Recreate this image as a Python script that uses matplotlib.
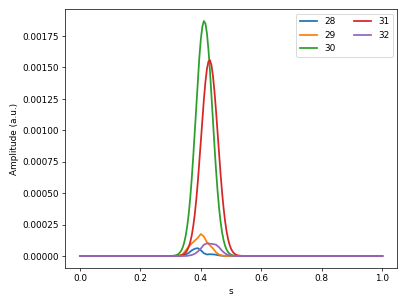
import numpy as np
import matplotlib
matplotlib.use("Agg")
import matplotlib.pyplot as plt

# coarse grid (0.01) for the small series, fine grid (0.005) for the two big peaks
s_coarse = np.round(np.linspace(0.0, 1.0, 101), 3)
s_fine = np.round(np.linspace(0.0, 1.0, 201), 3)

# non-zero stretch of each series starts at these s values; zero elsewhere
start_28, vals_28 = 0.34, [0.000005, 0.000012, 0.000025, 0.000045, 0.000058, 0.000062,
                          0.000045, 0.000022, 0.000012, 0.000014, 0.000013, 0.000010,
                          0.000005, 0.000002]
start_29, vals_29 = 0.33, [0.000004, 0.000015, 0.000045, 0.000075, 0.000100, 0.000123,
                          0.000145, 0.000175, 0.000155, 0.000110, 0.000085, 0.000060,
                          0.000030, 0.000012, 0.000004]
start_30, vals_30 = 0.30, [0.0000006, 0.0000012, 0.0000023, 0.0000045, 0.0000081, 0.0000146,
                          0.0000254, 0.0000422, 0.0000683, 0.000107, 0.000163, 0.000239,
                          0.000338, 0.000466, 0.000620, 0.000799, 0.000995, 0.001200,
                          0.001400, 0.001581, 0.001727, 0.001826, 0.001869, 0.001850,
                          0.001773, 0.001644, 0.001476, 0.001281, 0.001077, 0.000875,
                          0.000689, 0.000525, 0.000387, 0.000276, 0.000190, 0.000127,
                          0.000082, 0.0000514, 0.0000311, 0.0000183, 0.0000103, 0.0000056,
                          0.000003, 0.0000015, 0.0000008]
start_31, vals_31 = 0.31, [0.0000002, 0.0000004, 0.0000007, 0.0000014, 0.0000028, 0.0000052,
                          0.0000093, 0.0000164, 0.0000278, 0.0000457, 0.0000727, 0.000112,
                          0.000166, 0.000240, 0.000335, 0.000452, 0.000591, 0.000748,
                          0.000915, 0.001085, 0.001245, 0.001383, 0.001487, 0.001547,
                          0.001558, 0.001519, 0.001433, 0.001309, 0.001158, 0.000991,
                          0.000820, 0.000658, 0.000510, 0.000384, 0.000279, 0.000196,
                          0.000134, 0.0000882, 0.0000562, 0.0000348, 0.0000208, 0.000012,
                          0.0000067, 0.0000036, 0.0000019, 0.000001, 0.0000005]
start_32, vals_32 = 0.36, [0.000003, 0.000008, 0.000018, 0.000035, 0.000060, 0.000090,
                          0.000100, 0.000098, 0.000095, 0.000090, 0.000070, 0.000042,
                          0.000020, 0.000008, 0.000003]

labels = ["28", "29", "30", "31", "32"]


def full_series(grid, start, vals):
    y = np.zeros_like(grid)
    step = grid[1] - grid[0]
    i0 = int(round(start / step))
    y[i0:i0 + len(vals)] = vals
    return y


series = [
    (s_coarse, full_series(s_coarse, start_28, vals_28)),
    (s_coarse, full_series(s_coarse, start_29, vals_29)),
    (s_fine, full_series(s_fine, start_30, vals_30)),
    (s_fine, full_series(s_fine, start_31, vals_31)),
    (s_coarse, full_series(s_coarse, start_32, vals_32)),
]

fig, ax = plt.subplots(figsize=(6.4, 4.8), dpi=407 / 6.4)
for (x, y), lab in zip(series, labels):
    ax.plot(x, y, label=lab, lw=2.0)
ax.set_xlabel("s")
ax.set_ylabel("Amplitude (a.u.)")
ax.legend(ncol=2, loc="upper right")
fig.tight_layout()
fig.savefig("out.png", dpi=407 / 6.4)
